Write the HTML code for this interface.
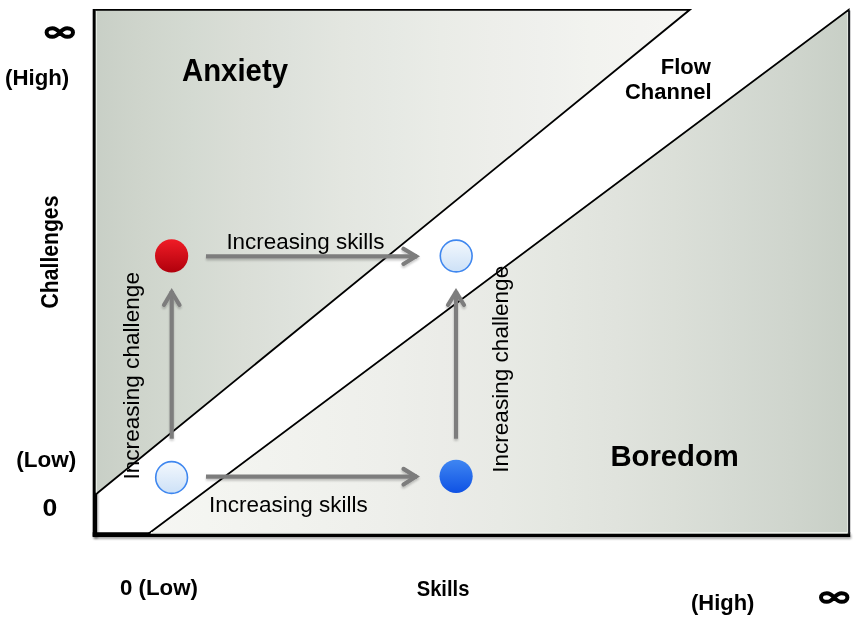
<!DOCTYPE html>
<html>
<head>
<meta charset="utf-8">
<style>
html,body{margin:0;padding:0;background:#fff;width:862px;height:618px;overflow:hidden;}
svg{display:block;will-change:transform;}
text{font-family:"Liberation Sans",sans-serif;fill:#000;}
.b{font-weight:bold;}
</style>
</head>
<body>
<svg width="862" height="618" viewBox="0 0 862 618">
<defs>
<linearGradient id="gU" gradientUnits="userSpaceOnUse" x1="94" y1="0" x2="690" y2="0">
<stop offset="0.000" stop-color="#c8cfc6"/>
<stop offset="0.083" stop-color="#cfd5cc"/>
<stop offset="0.167" stop-color="#d4dad2"/>
<stop offset="0.250" stop-color="#daded7"/>
<stop offset="0.333" stop-color="#dee2dc"/>
<stop offset="0.417" stop-color="#e3e6e0"/>
<stop offset="0.500" stop-color="#e6e9e4"/>
<stop offset="0.583" stop-color="#eaece7"/>
<stop offset="0.667" stop-color="#edeeea"/>
<stop offset="0.750" stop-color="#eff0ed"/>
<stop offset="0.833" stop-color="#f2f3ef"/>
<stop offset="0.917" stop-color="#f4f4f1"/>
<stop offset="1.000" stop-color="#f6f6f3"/>
</linearGradient>
<linearGradient id="gL" gradientUnits="userSpaceOnUse" x1="149" y1="0" x2="849" y2="0">
<stop offset="0.000" stop-color="#f6f6f3"/>
<stop offset="0.083" stop-color="#f4f5f1"/>
<stop offset="0.167" stop-color="#f2f3ef"/>
<stop offset="0.250" stop-color="#f0f1ed"/>
<stop offset="0.333" stop-color="#eeefeb"/>
<stop offset="0.417" stop-color="#ebece8"/>
<stop offset="0.500" stop-color="#e8eae5"/>
<stop offset="0.583" stop-color="#e4e7e1"/>
<stop offset="0.667" stop-color="#e0e3dd"/>
<stop offset="0.750" stop-color="#dbdfd8"/>
<stop offset="0.833" stop-color="#d5dad3"/>
<stop offset="0.917" stop-color="#cfd5cd"/>
<stop offset="1.000" stop-color="#c8cfc6"/>
</linearGradient>
<linearGradient id="gRed" x1="0" y1="0" x2="0" y2="1">
<stop offset="0" stop-color="#f01c26"/>
<stop offset="1" stop-color="#b0000c"/>
</linearGradient>
<linearGradient id="gBlue" x1="0" y1="0" x2="0" y2="1">
<stop offset="0" stop-color="#3f86f2"/>
<stop offset="1" stop-color="#0f52e4"/>
</linearGradient>
<linearGradient id="gLight" x1="0" y1="0" x2="0" y2="1">
<stop offset="0" stop-color="#f3f8fd"/>
<stop offset="1" stop-color="#cde1f7"/>
</linearGradient>
<filter id="shAx" filterUnits="userSpaceOnUse" x="0" y="0" width="862" height="618">
<feGaussianBlur in="SourceAlpha" stdDeviation="1.2"/>
<feOffset dx="0.6" dy="2" result="b"/>
<feComponentTransfer><feFuncA type="linear" slope="0.35"/></feComponentTransfer>
<feMerge><feMergeNode/><feMergeNode in="SourceGraphic"/></feMerge>
</filter>
<filter id="shAr" filterUnits="userSpaceOnUse" x="0" y="0" width="862" height="618">
<feGaussianBlur in="SourceAlpha" stdDeviation="1.1"/>
<feOffset dx="0.3" dy="1.8" result="b"/>
<feComponentTransfer><feFuncA type="linear" slope="0.22"/></feComponentTransfer>
<feMerge><feMergeNode/><feMergeNode in="SourceGraphic"/></feMerge>
</filter>
</defs>

<!-- axes -->
<line x1="94.9" y1="9" x2="94.9" y2="536.6" stroke="#000" stroke-width="4.4" filter="url(#shAx)"/>
<line x1="92.7" y1="534.65" x2="850.2" y2="534.65" stroke="#000" stroke-width="4.6" filter="url(#shAx)"/>

<!-- upper triangle (Anxiety) -->
<polygon points="95.8,9.8 689.7,9.8 95.8,494.3" fill="url(#gU)"/>
<polyline points="95.8,9.8 689.7,9.8 94.4,495.5" fill="none" stroke="#000" stroke-width="1.8" stroke-linejoin="miter"/>
<line x1="96.3" y1="11" x2="96.3" y2="492.5" stroke="#eef2ec" stroke-width="1"/>
<!-- lower triangle (Boredom) -->
<polygon points="148.6,533.6 848.7,9.7 848.7,533.6" fill="url(#gL)"/>
<polyline points="147.4,534.5 848.7,9.7 848.7,533.6" fill="none" stroke="#000" stroke-width="1.8" stroke-linejoin="miter"/>
<line x1="849.2" y1="10.5" x2="849.2" y2="533.6" stroke="#1a1d22" stroke-width="2"/>
<line x1="151" y1="532.8" x2="847.6" y2="532.8" stroke="#eef1ec" stroke-width="1.4"/>
<line x1="847.6" y1="12" x2="847.6" y2="532.8" stroke="#e8ece6" stroke-width="1"/>

<!-- arrows -->
<g stroke="#7d7d7d" fill="none" stroke-width="4.2" filter="url(#shAr)">
<line x1="206" y1="256.3" x2="417" y2="256.3"/>
<polyline points="403.5,248.8 416,256.3 403.5,264" stroke-linecap="round" stroke-linejoin="miter"/>
<line x1="206" y1="476.6" x2="417" y2="476.6"/>
<polyline points="403.5,468.9 416,476.6 403.5,484.6" stroke-linecap="round" stroke-linejoin="miter"/>
<line x1="171.7" y1="438.7" x2="171.7" y2="291"/>
<polyline points="164,305 171.7,292 179.5,305" stroke-linecap="round" stroke-linejoin="miter"/>
<line x1="456" y1="438.7" x2="456" y2="291"/>
<polyline points="448,305 456,292 464,305" stroke-linecap="round" stroke-linejoin="miter"/>
</g>

<!-- circles -->
<circle cx="171.6" cy="255.9" r="16.6" fill="url(#gRed)"/>
<circle cx="456.2" cy="256" r="15.9" fill="url(#gLight)" stroke="#3f87ef" stroke-width="1.6"/>
<circle cx="171.6" cy="477.5" r="15.9" fill="url(#gLight)" stroke="#3f87ef" stroke-width="1.6"/>
<circle cx="456.1" cy="476.3" r="16.6" fill="url(#gBlue)"/>

<!-- infinity symbols -->
<g fill="none" stroke="#000" stroke-width="4">
<path d="M59.80,32.55 C62.80,29.11 64.80,28.25 67.20,28.25 C70.60,28.25 73.00,29.97 73.00,32.55 C73.00,35.13 70.60,36.85 67.20,36.85 C64.80,36.85 62.80,35.99 59.80,32.55 C56.80,29.11 54.80,28.25 52.40,28.25 C49.00,28.25 46.60,29.97 46.60,32.55 C46.60,35.13 49.00,36.85 52.40,36.85 C54.80,36.85 56.80,35.99 59.80,32.55Z"/>
<path d="M834.20,597.50 C837.20,594.06 839.20,593.20 841.60,593.20 C845.00,593.20 847.40,594.92 847.40,597.50 C847.40,600.08 845.00,601.80 841.60,601.80 C839.20,601.80 837.20,600.94 834.20,597.50 C831.20,594.06 829.20,593.20 826.80,593.20 C823.40,593.20 821.00,594.92 821.00,597.50 C821.00,600.08 823.40,601.80 826.80,601.80 C829.20,601.80 831.20,600.94 834.20,597.50Z"/>
</g>

<!-- texts -->
<text id="t_anx" class="b" x="182" y="81" font-size="30.5" textLength="106" lengthAdjust="spacingAndGlyphs">Anxiety</text>
<text id="t_bor" class="b" x="610.4" y="466.3" font-size="29.8" textLength="128.5" lengthAdjust="spacingAndGlyphs">Boredom</text>
<text id="t_flow" class="b" x="660.7" y="73.6" font-size="22.2" textLength="50.2" lengthAdjust="spacingAndGlyphs">Flow</text>
<text id="t_chan" class="b" x="625" y="98.5" font-size="22.2" textLength="86.7" lengthAdjust="spacingAndGlyphs">Channel</text>
<text id="t_high1" class="b" x="5" y="85.3" font-size="22.4" textLength="64.2" lengthAdjust="spacingAndGlyphs">(High)</text>
<text id="t_low1" class="b" x="16.2" y="466.9" font-size="22" textLength="60" lengthAdjust="spacingAndGlyphs">(Low)</text>
<text id="t_zero" class="b" x="42.6" y="515.6" font-size="23.5" textLength="14.8" lengthAdjust="spacingAndGlyphs">0</text>
<text id="t_low2" class="b" x="120" y="594.6" font-size="22" textLength="78" lengthAdjust="spacingAndGlyphs">0 (Low)</text>
<text id="t_skills" class="b" x="416.7" y="595.8" font-size="22" textLength="52.7" lengthAdjust="spacingAndGlyphs">Skills</text>
<text id="t_high2" class="b" x="691" y="609.7" font-size="22.4" textLength="63.4" lengthAdjust="spacingAndGlyphs">(High)</text>
<text id="t_chal" class="b" transform="translate(58.2,308.4) rotate(-90)" x="0" y="0" font-size="23" textLength="112.8" lengthAdjust="spacingAndGlyphs">Challenges</text>
<text id="t_is1" x="226.4" y="248.6" font-size="22" textLength="158.1" lengthAdjust="spacingAndGlyphs">Increasing skills</text>
<text id="t_is2" x="209" y="512" font-size="22" textLength="158.8" lengthAdjust="spacingAndGlyphs">Increasing skills</text>
<text id="t_ic1" transform="translate(139,479.6) rotate(-90)" x="0" y="0" font-size="22" textLength="207.6" lengthAdjust="spacingAndGlyphs">Increasing challenge</text>
<text id="t_ic2" transform="translate(508,472.8) rotate(-90)" x="0" y="0" font-size="22" textLength="207" lengthAdjust="spacingAndGlyphs">Increasing challenge</text>
</svg>
</body>
</html>
